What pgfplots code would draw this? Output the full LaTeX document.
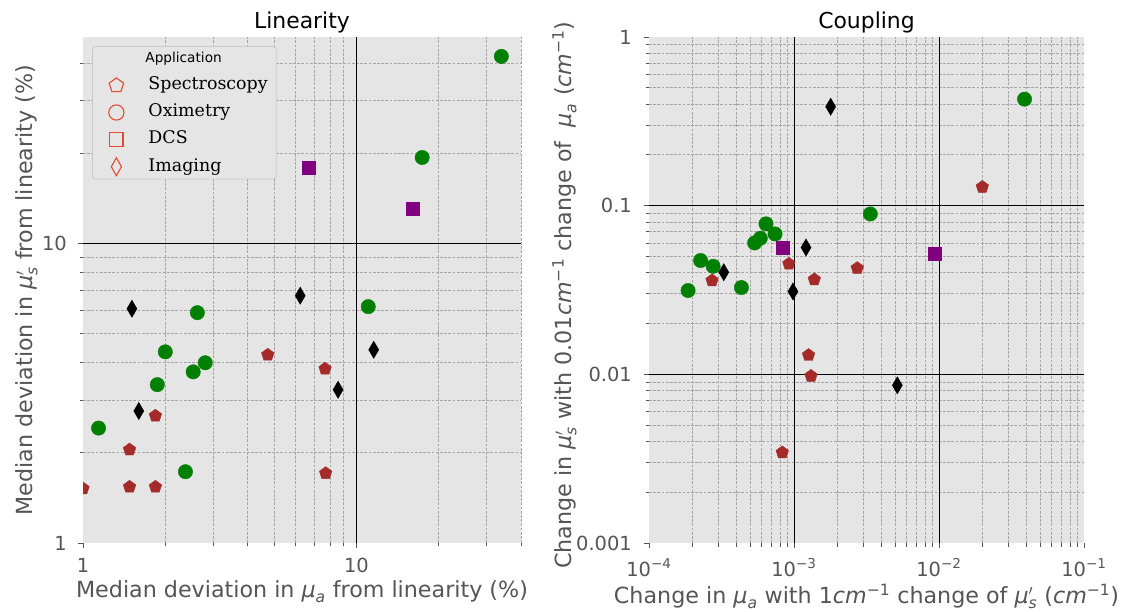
\documentclass[border=0pt]{standalone}
\usepackage{fontspec}
\setmainfont{DejaVu Sans}
\newfontfamily\legserif{DejaVu Serif}
\usepackage{amsmath}
\usepackage{pgfplots}
\pgfplotsset{compat=1.18}

\definecolor{panel}{HTML}{E5E5E5}
\definecolor{tickgray}{HTML}{555555}
\definecolor{gridgray}{HTML}{A6A6A6}
\definecolor{legedge}{HTML}{CCCCCC}
\definecolor{legred}{HTML}{E24A33}
\definecolor{mbrown}{HTML}{A52A2A}
\definecolor{mgreen}{HTML}{008000}
\definecolor{mpurple}{HTML}{800080}

\newcommand{\itx}[1]{\text{\itshape #1}}
\newcommand{\mus}{$\itx{μ}'_{\itx{s}}$}
\newcommand{\mua}{$\itx{μ}_{\itx{a}}$}
\newcommand{\cmi}{$\itx{cm}^{\text{−1}}$}

\pgfplotsset{
  every axis/.append style={
    scale only axis, height=506bp,
    axis background/.style={fill=panel},
    axis line style={draw=none},
    tick align=outside,
    major tick length=5bp, minor tick length=3.5bp,
    every tick/.style={tickgray, line width=0.8bp},
    xminorgrids=true, yminorgrids=true,
    minor grid style={gridgray, line width=0.8bp, dash pattern=on 2.8bp off 1.4bp},
    ticklabel style={font=\fontsize{19.5}{22}\selectfont, text=tickgray},
    xticklabel style={anchor=base, inner sep=0pt},
    yticklabel style={anchor=east, inner sep=0pt},
    label style={font=\fontsize{22.3}{26}\selectfont, text=tickgray},
    title style={font=\fontsize{22}{26}\selectfont, text=black,
      at={(axis description cs:0.5,1)}, anchor=base, yshift=3bp},
  },
  spec/.style={only marks, mark=pentagon*, mark size=6.6bp, draw=mbrown, fill=mbrown, forget plot},
  oxim/.style={only marks, mark=*, mark size=7.2bp, draw=mgreen, fill=mgreen, forget plot},
  dcs/.style={only marks, mark=square*, mark size=6.5bp, draw=mpurple, fill=mpurple, forget plot},
  imag/.style={only marks, mark=diamond*, mark size=8.6bp, draw=black, fill=black,
    mark options={xscale=0.78}, forget plot},
}

\begin{document}
\begin{tikzpicture}
\useasboundingbox (0,0) rectangle (1125bp,612bp);

% ---------------- Linearity ----------------
\begin{axis}[at={(83bp,69bp)}, anchor=south west, width=438bp,
  xmode=log, ymode=log, xtick pos=left, ytick pos=left,
  clip marker paths=true,
  xmin=1, xmax=40, ymin=1, ymax=49,
  xtick={1,10}, xticklabels={1,10},
  ytick={1,10}, yticklabels={1,10},
  xticklabel style={yshift=-25bp},
  yticklabel style={xshift=-11bp},
  minor xtick={2,3,4,5,6,7,8,9,20,30,40},
  minor ytick={2,3,4,5,6,7,8,9,20,30,40},
  title={Linearity},
  xlabel={Median deviation in \mua{} from linearity (\%)},
  ylabel={Median deviation in \mus{} from linearity (\%)},
  xlabel style={at={(axis description cs:0.5,0)}, anchor=base, yshift=-54bp},
  ylabel style={at={(axis description cs:-0.1164,0.5)}, anchor=base},
  legend style={at={(axis description cs:0.0205,0.982)}, anchor=north west,
    fill=panel, draw=legedge, rounded corners=3bp, line width=0.8bp,
    inner xsep=15.5bp, inner ysep=3.25bp, row sep=9.5bp, column sep=24.5bp,
    nodes={inner sep=0pt, text height=13bp, text depth=4.5bp},
    cells={anchor=west},
    font=\legserif\fontsize{17.5}{20}\selectfont, text=black},
]
\addlegendimage{empty legend}
\addlegendentry{\normalfont\fontsize{13.7}{16}\selectfont\hspace*{-3bp}Application}
\addlegendimage{only marks, mark=pentagon, legred, mark size=7.6bp, line width=1.1bp}
\addlegendentry{Spectroscopy\hspace*{-7bp}}
\addlegendimage{only marks, mark=o, legred, mark size=7.6bp, line width=1.1bp}
\addlegendentry{Oximetry}
\addlegendimage{only marks, mark=square, legred, mark size=6.6bp, line width=1.1bp}
\addlegendentry{DCS}
\addlegendimage{only marks, mark=diamond, legred, mark size=9bp, line width=1.1bp, mark options={xscale=0.75}}
\addlegendentry{Imaging}

\draw[black, line width=1bp] (axis cs:10,1) -- (axis cs:10,49);
\draw[black, line width=1bp] (axis cs:1,10) -- (axis cs:40,10);

\addplot[spec] coordinates {
  (4.74,4.25) (7.68,3.82) (1.84,2.66) (1.48,2.05) (7.72,1.71)
  (1.00,1.52) (1.48,1.54) (1.84,1.54)
};
\addplot[oxim] coordinates {
  (33.9,42.2) (17.4,19.4) (11.05,6.16) (2.62,5.88) (2.00,4.35)
  (2.80,4.00) (2.53,3.73) (1.87,3.38) (1.14,2.42) (2.37,1.73)
};
\addplot[dcs] coordinates {
  (6.70,17.9) (16.1,13.1)
};
\addplot[imag] coordinates {
  (6.23,6.70) (1.51,6.06) (11.57,4.42) (8.57,3.25) (1.60,2.76)
};
\end{axis}

% ---------------- Coupling ----------------
\begin{axis}[at={(649bp,69bp)}, anchor=south west, width=435bp,
  xmode=log, ymode=log, xtick pos=left, ytick pos=left,
  xmin=1e-4, xmax=1e-1, ymin=1e-3, ymax=1,
  xtick={1e-4,1e-3,1e-2,1e-1},
  xticklabels={10\textsuperscript{−4},10\textsuperscript{−3},10\textsuperscript{−2},10\textsuperscript{−1}},
  ytick={0.001,0.01,0.1,1}, yticklabels={0.001,0.01,0.1,1},
  xticklabel style={yshift=-28bp},
  yticklabel style={xshift=-12bp},
  minor xtick={2e-4,3e-4,4e-4,5e-4,6e-4,7e-4,8e-4,9e-4,
    2e-3,3e-3,4e-3,5e-3,6e-3,7e-3,8e-3,9e-3,
    2e-2,3e-2,4e-2,5e-2,6e-2,7e-2,8e-2,9e-2},
  minor ytick={0.002,0.003,0.004,0.005,0.006,0.007,0.008,0.009,
    0.02,0.03,0.04,0.05,0.06,0.07,0.08,0.09,
    0.2,0.3,0.4,0.5,0.6,0.7,0.8,0.9},
  title={Coupling},
  xlabel={Change in \mua{} with 1\cmi{} change of \mus{} (\cmi)},
  ylabel={Change in \mus{} with 0.01\cmi{} change of \ \mua{} (\cmi)},
  xlabel style={at={(axis description cs:0.5,0)}, anchor=base, yshift=-60bp},
  ylabel style={at={(axis description cs:-0.179,0.49)}, anchor=base},
]
\draw[black, line width=1bp] (axis cs:1e-3,1e-3) -- (axis cs:1e-3,1);
\draw[black, line width=1bp] (axis cs:1e-2,1e-3) -- (axis cs:1e-2,1);
\draw[black, line width=1bp] (axis cs:1e-4,0.1) -- (axis cs:1e-1,0.1);
\draw[black, line width=1bp] (axis cs:1e-4,0.01) -- (axis cs:1e-1,0.01);

\addplot[spec] coordinates {
  (0.0199,0.129) (0.000922,0.0452) (0.00273,0.0426) (0.000272,0.036)
  (0.00138,0.0365) (0.00126,0.013) (0.00131,0.00977) (0.00083,0.00344)
};
\addplot[oxim] coordinates {
  (0.0389,0.428) (0.00336,0.0893) (0.000641,0.078) (0.00074,0.068)
  (0.000586,0.0641) (0.000535,0.0601) (0.000227,0.0473) (0.000277,0.0437)
  (0.000434,0.0327) (0.000186,0.0314)
};
\addplot[dcs] coordinates {
  (0.000838,0.0567) (0.00929,0.0518)
};
\addplot[imag] coordinates {
  (0.00179,0.386) (0.00121,0.0565) (0.000328,0.0403) (0.000984,0.031)
  (0.00516,0.00861)
};
\end{axis}
\end{tikzpicture}
\end{document}
